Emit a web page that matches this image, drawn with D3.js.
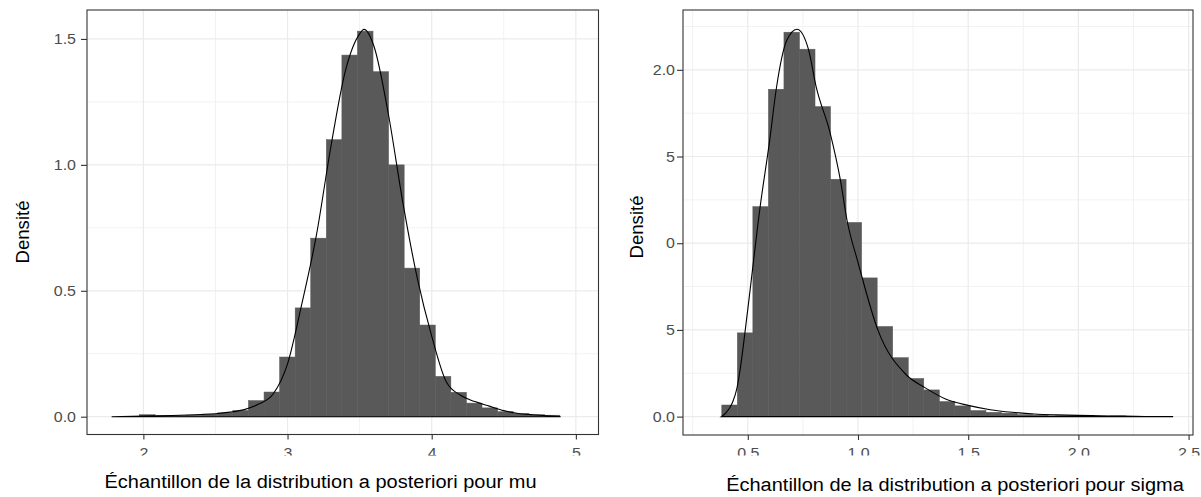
<!DOCTYPE html>
<html>
<head>
<meta charset="utf-8">
<script src="https://cdn.jsdelivr.net/npm/d3@7"></script>
<style>
  body { margin: 0; background: #fff; }
  svg { display: block; font-family: "Liberation Sans", Arial, sans-serif; }
</style>
</head>
<body>
<script>
width = 1201
height = 497

// --- mu : histogram (30 bins) + density
muBinStart = 1.757
muBinWidth = 0.108
muBins = [0.000, 0.001, 0.008, 0.003, 0.004, 0.006, 0.010, 0.015, 0.025, 0.064,
          0.098, 0.237, 0.432, 0.709, 1.100, 1.436, 1.531, 1.370, 1.000, 0.590,
          0.364, 0.160, 0.097, 0.054, 0.035, 0.020, 0.012, 0.008, 0.006, 0.000]
muCurveX = [1.78, 2.0, 2.2, 2.4, 2.5, 2.6, 2.7, 2.8, 2.9, 3.0, 3.1, 3.2, 3.3, 3.4, 3.5, 3.53,
            3.6, 3.7, 3.8, 3.9, 4.0, 4.1, 4.2, 4.3, 4.4, 4.5, 4.6, 4.7, 4.8, 4.89]
muCurveY = [0, 0.003, 0.005, 0.009, 0.012, 0.018, 0.028, 0.05, 0.09, 0.21, 0.45, 0.72, 1.07, 1.37, 1.52, 1.538,
             1.47, 1.2, 0.85, 0.55, 0.32, 0.14, 0.085, 0.06, 0.042, 0.024, 0.013, 0.008, 0.004, 0.001]
muXTicks = [2, 3, 4, 5]
muXLabels = ["2", "3", "4", "5"]
muYTicks = [0, 0.5, 1, 1.5]
muYLabels = ["0.0", "0.5", "1.0", "1.5"]

// --- sigma : histogram (30 bins) + density
sigmaBinStart = 0.382
sigmaBinWidth = 0.0705
sigmaBins = [0.067, 0.483, 1.211, 1.888, 2.217, 2.119, 1.788, 1.369, 1.120, 0.800,
             0.520, 0.340, 0.220, 0.154, 0.087, 0.062, 0.035, 0.025, 0.020, 0.012,
             0.009, 0.005, 0.005, 0.005, 0.002, 0.004, 0.000, 0.000, 0.000, 0.000]
sigmaCurveX = [0.38, 0.40, 0.43, 0.45, 0.465, 0.5, 0.556, 0.6, 0.629, 0.677, 0.723, 0.775, 0.81, 0.874,
               0.92, 0.95, 1.0, 1.09, 1.22, 1.3, 1.4, 1.5, 1.6, 1.7, 1.8, 1.9, 2.0, 2.1, 2.2, 2.3, 2.43]
sigmaCurveY = [0, 0.02, 0.08, 0.16, 0.27, 0.62, 1.21, 1.6, 1.888, 2.17, 2.234, 2.119, 1.903, 1.634,
               1.365, 1.134, 0.89, 0.5, 0.24, 0.17, 0.1, 0.065, 0.04, 0.025, 0.015, 0.01, 0.007, 0.005, 0.003, 0.001, 0]
sigmaXTicks = [0.5, 1, 1.5, 2, 2.5]
sigmaXLabels = ["0.5", "1.0", "1.5", "2.0", "2.5"]
sigmaYTicks = [0, 0.5, 1, 1.5, 2]
sigmaYLabels = ["0.0", "5", "0", "5", "2.0"]

sx = 1.075   // horizontal stretch of the text in the picture

const svg = d3.select("body").append("svg")
    .attr("width", width)
    .attr("height", height)

const defs = svg.append("defs")

panels = [
  {id: "mu", left: 87, right: 598.5, top: 10, bottom: 434.5,
   xDomain: [1.609, 5.157], yDomain: [-0.0707, 1.615],
   binStart: muBinStart, binWidth: muBinWidth, bins: muBins,
   curveX: muCurveX, curveY: muCurveY,
   xTicks: muXTicks, xLabels: muXLabels, yTicks: muYTicks, yLabels: muYLabels,
   xMinor: [2.5, 3.5, 4.5], yMinor: [0.25, 0.75, 1.25],
   yPad: 5, ylabX: 29, ylabY: 232, xlabX: 320.5, xlabY: 488,
   xTitle: "Échantillon de la distribution a posteriori pour mu"},
  {id: "sigma", left: 683, right: 1193, top: 10, bottom: 435,
   xDomain: [0.206, 2.52], yDomain: [-0.106, 2.345],
   binStart: sigmaBinStart, binWidth: sigmaBinWidth, bins: sigmaBins,
   curveX: sigmaCurveX, curveY: sigmaCurveY,
   xTicks: sigmaXTicks, xLabels: sigmaXLabels, yTicks: sigmaYTicks, yLabels: sigmaYLabels,
   xMinor: [0.25, 0.75, 1.25, 1.75, 2.25], yMinor: [0.25, 0.75, 1.25, 1.75, 2.25],
   yPad: 2, ylabX: 642.7, ylabY: 227, xlabX: 955, xlabY: 491,
   xTitle: "Échantillon de la distribution a posteriori pour sigma"}
]

panels.forEach(p => {
  const x = d3.scaleLinear().domain(p.xDomain).range([p.left, p.right])
  const y = d3.scaleLinear().domain(p.yDomain).range([p.bottom, p.top])
  const g = svg.append("g")

  // grid
  g.append("g").selectAll("line").data(p.xMinor).join("line")
      .attr("x1", d => x(d)).attr("x2", d => x(d))
      .attr("y1", p.top).attr("y2", p.bottom)
      .attr("stroke", "#f2f2f2").attr("stroke-width", 1)
  g.append("g").selectAll("line").data(p.yMinor).join("line")
      .attr("x1", p.left).attr("x2", p.right)
      .attr("y1", d => y(d)).attr("y2", d => y(d))
      .attr("stroke", "#f2f2f2").attr("stroke-width", 1)
  g.append("g").selectAll("line").data(p.xTicks).join("line")
      .attr("x1", d => x(d)).attr("x2", d => x(d))
      .attr("y1", p.top).attr("y2", p.bottom)
      .attr("stroke", "#ebebeb").attr("stroke-width", 1.2)
  g.append("g").selectAll("line").data(p.yTicks).join("line")
      .attr("x1", p.left).attr("x2", p.right)
      .attr("y1", d => y(d)).attr("y2", d => y(d))
      .attr("stroke", "#ebebeb").attr("stroke-width", 1.2)

  // histogram
  g.append("g").selectAll("rect").data(p.bins).join("rect")
      .attr("x", (d, i) => x(p.binStart + i * p.binWidth))
      .attr("width", (d, i) => x(p.binStart + (i + 1) * p.binWidth) - x(p.binStart + i * p.binWidth))
      .attr("y", d => y(d))
      .attr("height", d => y(0) - y(d))
      .attr("fill", "#595959")
      .attr("stroke", "#595959")
      .attr("stroke-width", 0.5)

  // density outline (closed, so the baseline shows)
  const pts = p.curveX.map((v, i) => [v, p.curveY[i]])
  g.append("path")
      .datum(pts)
      .attr("d", d3.area().x(d => x(d[0])).y0(y(0)).y1(d => y(d[1])).curve(d3.curveMonotoneX))
      .attr("fill", "none")
      .attr("stroke", "#000")
      .attr("stroke-width", 1.1)

  // border
  g.append("rect")
      .attr("x", p.left).attr("y", p.top)
      .attr("width", p.right - p.left).attr("height", p.bottom - p.top)
      .attr("fill", "none").attr("stroke", "#333").attr("stroke-width", 1.1)

  // y axis
  const ya = g.append("g")
      .attr("transform", `translate(${p.left},0)`)
      .call(d3.axisLeft(y).tickValues(p.yTicks).tickFormat((d, i) => p.yLabels[i]).tickSize(6).tickPadding(p.yPad))
  ya.select(".domain").remove()
  ya.selectAll(".tick line").attr("stroke", "#333").attr("stroke-width", 1.1)
  ya.selectAll(".tick text")
      .attr("fill", "#4d4d4d")
      .attr("font-size", 14.9)
      .attr("font-family", "Liberation Sans, Arial, sans-serif")
      .each(function() {
        const t = d3.select(this)
        const tx = +t.attr("x")
        t.attr("x", 0).attr("transform", `translate(${tx},0) scale(${sx},1)`)
      })

  // x axis, labels are cut at the bottom in the picture
  defs.append("clipPath").attr("id", "clip-" + p.id)
    .append("rect")
      .attr("x", p.left - 40).attr("y", p.bottom - 2)
      .attr("width", p.right - p.left + 80).attr("height", 455.5 - p.bottom + 2)
  const xa = g.append("g").attr("clip-path", `url(#clip-${p.id})`)
    .append("g")
      .attr("transform", `translate(0,${p.bottom})`)
      .call(d3.axisBottom(x).tickValues(p.xTicks).tickFormat((d, i) => p.xLabels[i]).tickSize(5).tickPadding(7.5))
  xa.select(".domain").remove()
  xa.selectAll(".tick line").attr("stroke", "#333").attr("stroke-width", 1.1)
  xa.selectAll(".tick text")
      .attr("fill", "#4d4d4d")
      .attr("font-size", 14.9)
      .attr("font-family", "Liberation Sans, Arial, sans-serif")
      .attr("transform", `scale(${sx},1)`)

  // titles
  g.append("text")
      .attr("transform", `translate(${p.xlabX},${p.xlabY}) scale(${sx},1)`)
      .attr("text-anchor", "middle")
      .attr("font-size", 18.6)
      .attr("fill", "#000")
      .text(p.xTitle)
  g.append("text")
      .attr("transform", `translate(${p.ylabX},${p.ylabY}) rotate(-90)`)
      .attr("text-anchor", "middle")
      .attr("font-size", 18.6)
      .attr("fill", "#000")
      .text("Densité")
})
</script>
</body>
</html>
